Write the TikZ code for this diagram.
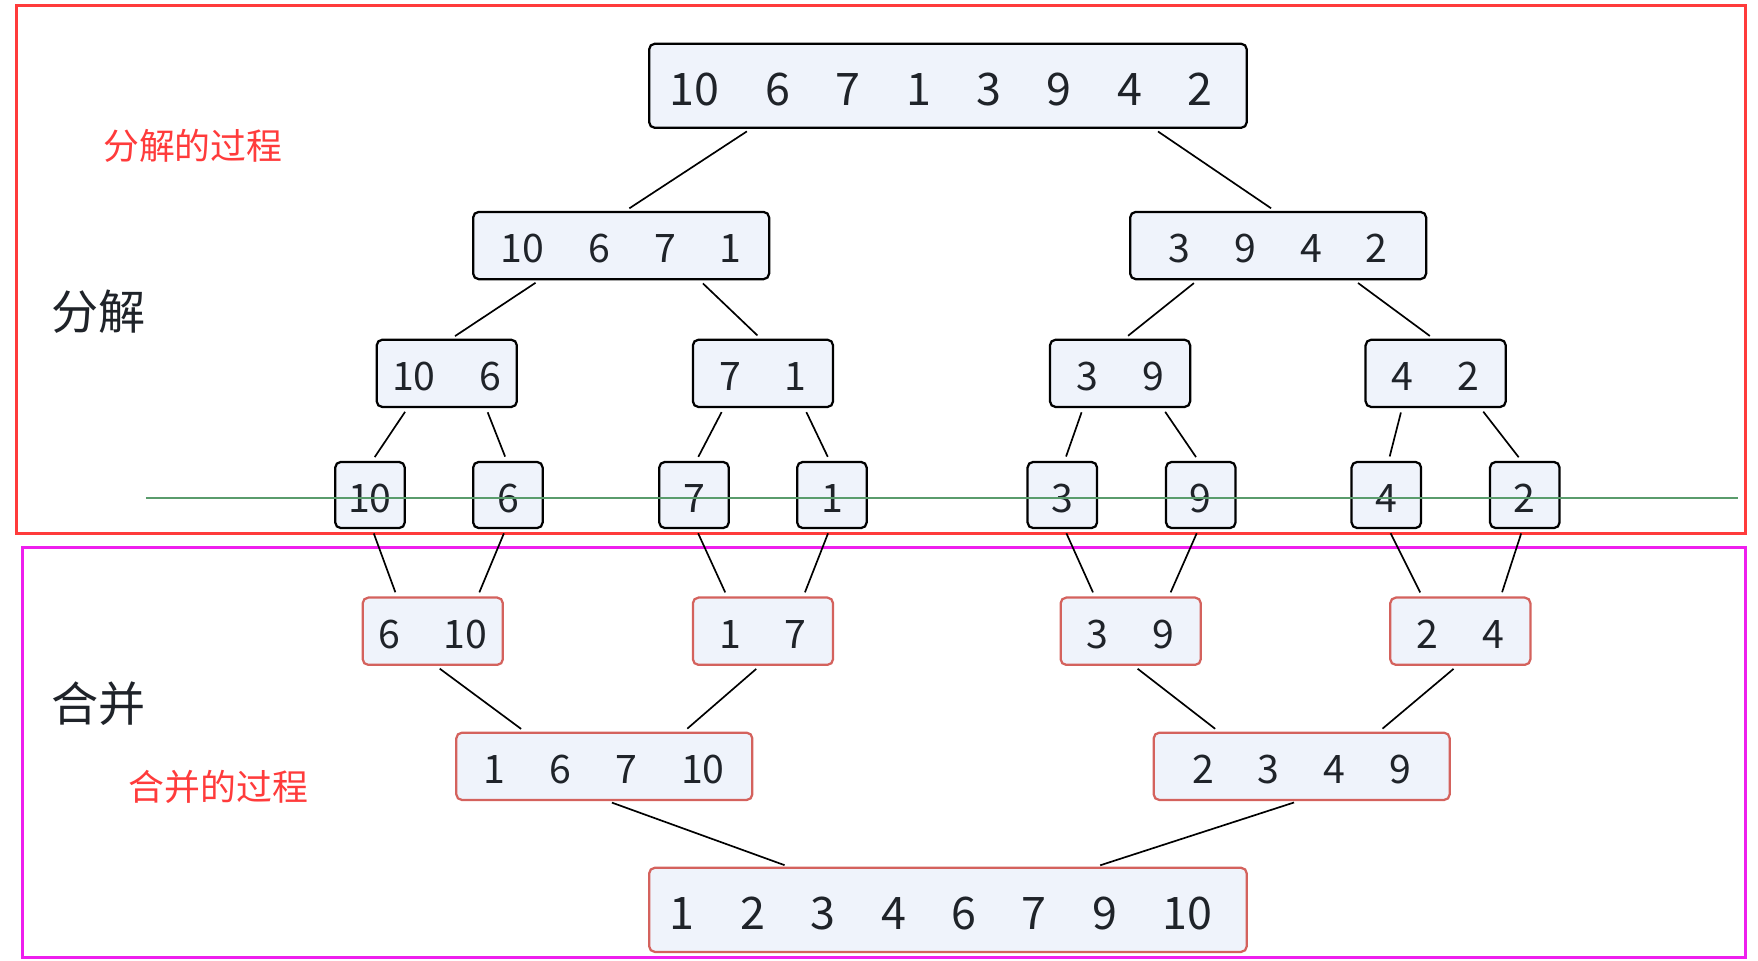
\documentclass[tikz,border=0pt]{standalone}
\usepackage{fontspec}
\setmainfont{Noto Sans CJK SC}
\definecolor{txt}{HTML}{1F2329}
\definecolor{boxfill}{HTML}{EFF3FB}
\definecolor{mergeline}{HTML}{D4625D}
\definecolor{redframe}{HTML}{FF3B3B}
\definecolor{magframe}{HTML}{EE1FEE}
\definecolor{greenline}{HTML}{5A9C6C}
\definecolor{redlabel}{HTML}{FF3B3B}
\newcommand{\g}{\hspace{19.6pt}}
\newcommand{\G}{\hspace{20.3pt}}
\newcommand{\dn}[1]{\raisebox{-1.5pt}[\height][\depth]{#1}}
\tikzset{
  nb/.style={draw=black, line width=1pt, fill=boxfill, rounded corners=2.5pt, text=txt,
    font=\fontsize{17.5}{21}\selectfont, inner sep=0pt, align=center},
  mb/.style={nb, draw=mergeline},
  wtop/.style={minimum width=266.5pt, minimum height=37.5pt, font=\fontsize{20}{24}\selectfont},
  wtwo/.style={minimum width=132pt, minimum height=30pt},
  wthree/.style={minimum width=62.5pt, minimum height=30pt},
  wleaf/.style={minimum width=31pt, minimum height=29.5pt},
  conn/.style={draw=black, line width=0.75pt, shorten <=2pt, shorten >=2pt},
  biglabel/.style={text=txt, font=\fontsize{21}{24}\selectfont},
  redlab/.style={text=redlabel, font=\fontsize{16}{19}\selectfont},
}
\begin{document}
\begin{tikzpicture}[x=0.5pt, y=-0.5pt]
\useasboundingbox (0,0) rectangle (1568,857);
% frames
\draw[redframe, line width=1.3pt] (15,5) rectangle (1557,476);
\draw[magframe, line width=1.3pt] (20,488) rectangle (1557,854);
% labels
\node[redlab] (l1) at (172,130) {分解的过程};
\node[biglabel] (l2) at (88,278) {分解};
\node[biglabel] (l3) at (88,628) {合并};
\node[redlab] (l4) at (195,702) {合并的过程};
% decomposition
\node[nb, wtop] (T) at (845.5,76.5) {\dn{10\G 6\G 7\G 1\G 3\G 9\G 4\G 2\hspace{6pt}}};
\node[nb, wtwo] (A) at (554,219) {\dn{10\g 6\g 7\g 1}};
\node[nb, wtwo] (B) at (1140,219) {\dn{3\g 9\g 4\g 2}};
\node[nb, wthree] (C1) at (398.5,333) {\dn{10\g 6}};
\node[nb, wthree] (C2) at (680.5,333) {\dn{7\g 1}};
\node[nb, wthree] (C3) at (999,333) {\dn{3\g 9}};
\node[nb, wthree] (C4) at (1280.5,333) {\dn{4\g 2}};
\node[nb, wleaf] (D1) at (330,441.5) {\dn{10}};
\node[nb, wleaf] (D2) at (453,441.5) {\dn{6}};
\node[nb, wleaf] (D3) at (619,441.5) {\dn{7}};
\node[nb, wleaf] (D4) at (742,441.5) {\dn{1}};
\node[nb, wleaf] (D5) at (947.5,441.5) {\dn{3}};
\node[nb, wleaf] (D6) at (1071,441.5) {\dn{9}};
\node[nb, wleaf] (D7) at (1236.5,441.5) {\dn{4}};
\node[nb, wleaf] (D8) at (1360,441.5) {\dn{2}};
% merge
\node[mb, wthree] (M1) at (386,563) {\dn{6\g 10}};
\node[mb, wthree] (M2) at (680.5,563) {\dn{1\g 7}};
\node[mb, wthree] (M3) at (1008.5,563) {\dn{3\g 9}};
\node[mb, wthree] (M4) at (1302.5,563) {\dn{2\g 4}};
\node[mb, wtwo] (N1) at (539,683.5) {\dn{1\g 6\g 7\g 10}};
\node[mb, wtwo] (N2) at (1161,683.5) {\dn{2\g 3\g 4\g 9}};
\node[mb, wtop] (F) at (845.5,811.5) {\dn{1\G 2\G 3\G 4\G 6\G 7\G 9\G 10\hspace{6pt}}};
% connectors: decomposition
\draw[conn] ([xshift=-88pt]T.south) -- ([xshift=2pt]A.north);
\draw[conn] ([xshift=92pt]T.south) -- ([xshift=-1.5pt]B.north);
\draw[conn] ([xshift=-36.5pt]A.south) -- ([xshift=2pt]C1.north);
\draw[conn] ([xshift=35pt]A.south) -- ([xshift=-1pt]C2.north);
\draw[conn] ([xshift=-36pt]B.south) -- ([xshift=2pt]C3.north);
\draw[conn] ([xshift=34pt]B.south) -- ([xshift=-1pt]C4.north);
\draw[conn] ([xshift=-17.5pt]C1.south) -- ([xshift=1pt]D1.north);
\draw[conn] ([xshift=17.5pt]C1.south) -- ([xshift=-0.5pt]D2.north);
\draw[conn] ([xshift=-17.5pt]C2.south) -- ([xshift=1pt]D3.north);
\draw[conn] ([xshift=18.5pt]C2.south) -- ([xshift=-1pt]D4.north);
\draw[conn] ([xshift=-16.5pt]C3.south) -- ([xshift=1pt]D5.north);
\draw[conn] ([xshift=19pt]C3.south) -- ([xshift=-1pt]D6.north);
\draw[conn] ([xshift=-15pt]C4.south) -- ([xshift=1pt]D7.north);
\draw[conn] ([xshift=20pt]C4.south) -- ([xshift=-1.5pt]D8.north);
% connectors: merge
\draw[conn] ([xshift=1pt]D1.south) -- ([xshift=-16pt]M1.north);
\draw[conn] ([xshift=-1pt]D2.south) -- ([xshift=20pt]M1.north);
\draw[conn] ([xshift=1pt]D3.south) -- ([xshift=-16pt]M2.north);
\draw[conn] ([xshift=-1pt]D4.south) -- ([xshift=18pt]M2.north);
\draw[conn] ([xshift=1pt]D5.south) -- ([xshift=-16pt]M3.north);
\draw[conn] ([xshift=-1pt]D6.south) -- ([xshift=17pt]M3.north);
\draw[conn] ([xshift=1pt]D7.south) -- ([xshift=-17pt]M4.north);
\draw[conn] ([xshift=-1pt]D8.south) -- ([xshift=18pt]M4.north);
\draw[conn] ([xshift=1.5pt]M1.south) -- ([xshift=-35.5pt]N1.north);
\draw[conn] ([xshift=-1.5pt]M2.south) -- ([xshift=35.5pt]N1.north);
\draw[conn] ([xshift=1.5pt]M3.south) -- ([xshift=-37pt]N2.north);
\draw[conn] ([xshift=-1.5pt]M4.south) -- ([xshift=34.5pt]N2.north);
\draw[conn] ([xshift=1.5pt]N1.south) -- ([xshift=-71pt]F.north);
\draw[conn] ([xshift=-1.5pt]N2.south) -- ([xshift=66pt]F.north);
% green line
\coordinate (g1) at (130,444);
\coordinate (g2) at (1550,444);
\draw[greenline, line width=0.8pt] (g1) -- (g2);
\end{tikzpicture}
\end{document}
